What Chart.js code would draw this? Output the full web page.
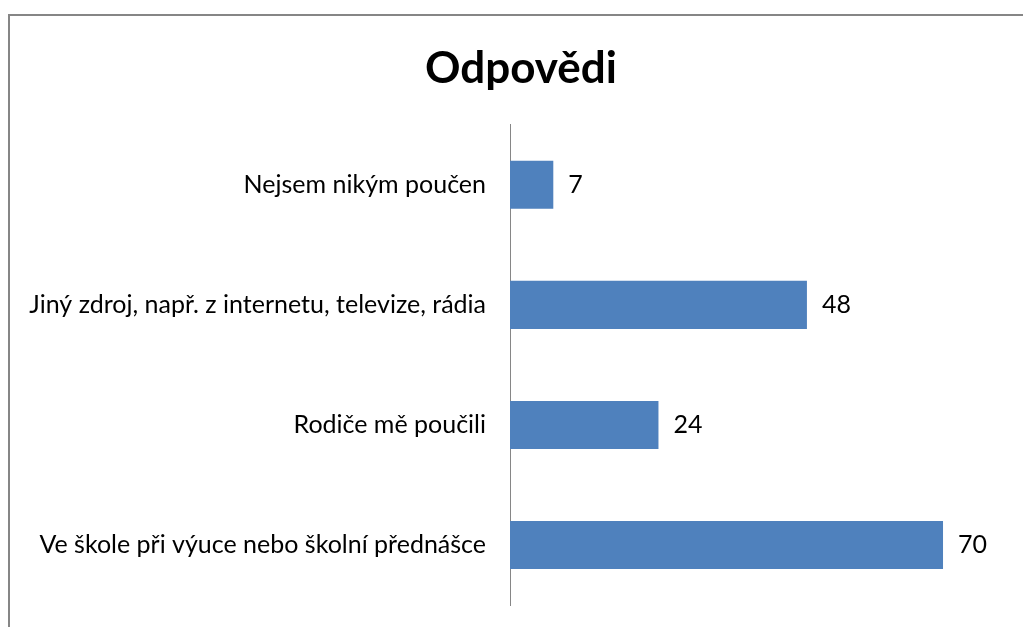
<!DOCTYPE html>
<html>
<head>
<meta charset="utf-8">
<script src="https://cdn.jsdelivr.net/npm/chart.js@4/dist/chart.umd.min.js"></script>
<style>
  html, body { margin: 0; padding: 0; background: #fff; overflow: hidden; }
  #frame { position: absolute; left: 8px; top: 14px; width: 1100px; height: 700px;
           border-top: 2px solid #868686; border-left: 2px solid #868686; }
  #wrap { position: absolute; left: 0; top: 0; width: 1060px; height: 627px; }
</style>
</head>
<body>
<div id="frame"></div>
<div id="wrap"><canvas id="myChart"></canvas></div>
<script>
const categories = [
  'Nejsem nikým poučen',
  'Jiný zdroj, např. z internetu, televize, rádia',
  'Rodiče mě poučili',
  'Ve škole při výuce nebo školní přednášce'
];
const answers = [7, 48, 24, 70];

// draws the value next to every bar
const valueLabels = {
  id: 'valueLabels',
  afterDatasetsDraw(chart) {
    const c = chart.ctx;
    c.save();
    c.font = '25px Lato, "Open Sans", sans-serif';
    c.fillStyle = '#000';
    c.textBaseline = 'middle';
    chart.getDatasetMeta(0).data.forEach((bar, i) => {
      c.fillText(String(answers[i]), bar.x + 15, bar.y);
    });
    c.restore();
  }
};

new Chart(document.getElementById('myChart'), {
  type: 'bar',
  data: {
    labels: categories,
    datasets: [{
      data: answers,
      backgroundColor: '#4f81bd',
      borderWidth: 0,
      barPercentage: 0.4,
      categoryPercentage: 1
    }]
  },
  plugins: [valueLabels],
  options: {
    indexAxis: 'y',
    responsive: true,
    maintainAspectRatio: false,
    animation: false,
    layout: { padding: { left: 0, right: 18, top: 0, bottom: 22 } },
    scales: {
      x: { display: false, min: 0, max: 86 },
      y: {
        grid: { display: false, drawTicks: false },
        border: { display: true, color: '#868686', width: 1 },
        ticks: {
          color: '#000',
          padding: 24,
          font: { family: 'Lato, "Open Sans", sans-serif', size: 25 }
        },
        afterFit(scale) {
          scale.width = 510;
          scale.paddingTop = 0;
          scale.paddingBottom = 0;
        }
      }
    },
    plugins: {
      legend: { display: false },
      tooltip: { enabled: false },
      title: {
        display: true,
        text: 'Odpovědi',
        color: '#000',
        font: { family: 'Lato, "Open Sans", sans-serif', size: 44, weight: 'bold' },
        padding: { top: 42, bottom: 30 }
      }
    }
  }
});
</script>
</body>
</html>
